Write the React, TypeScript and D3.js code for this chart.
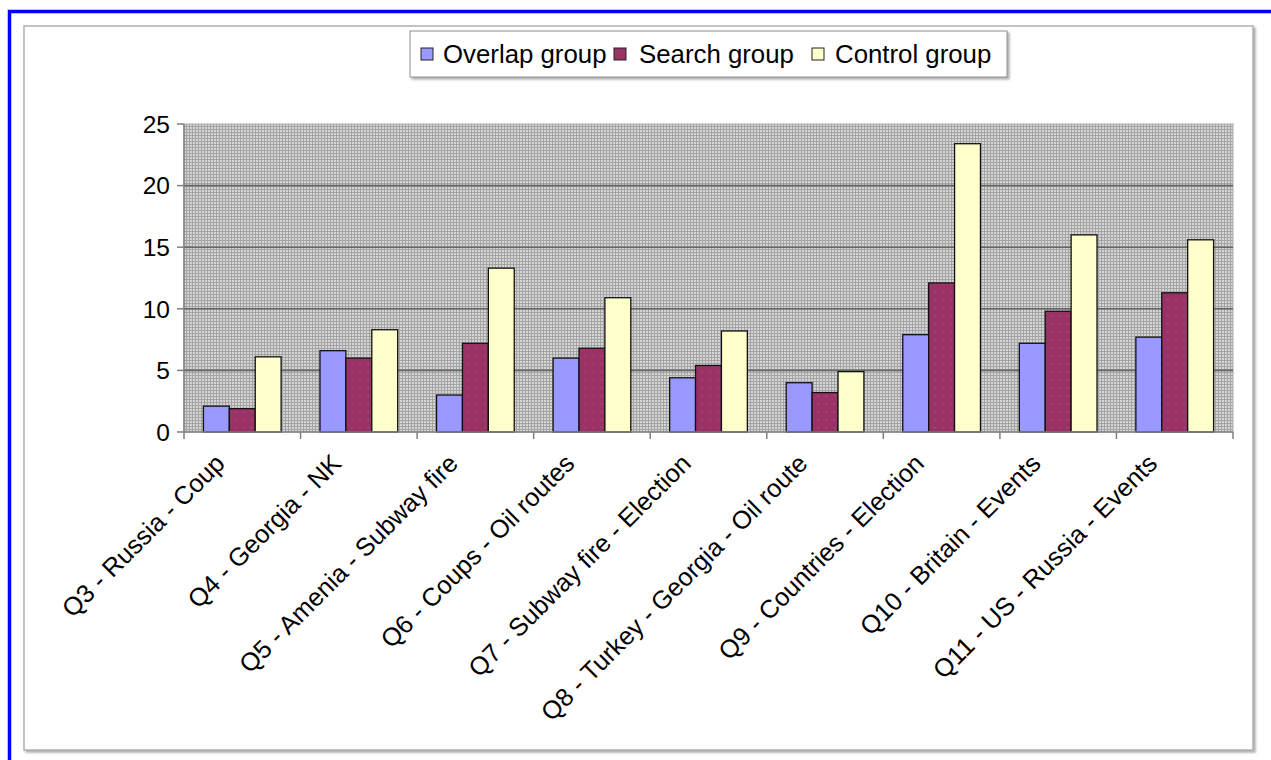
import React from "react";
import * as d3 from "d3";

const categories = [
  "Q3 - Russia - Coup",
  "Q4 - Georgia - NK",
  "Q5 - Amenia - Subway fire",
  "Q6 - Coups - Oil routes",
  "Q7 - Subway fire - Election",
  "Q8 - Turkey - Georgia - Oil route",
  "Q9 - Countries - Election",
  "Q10 - Britain - Events",
  "Q11 - US - Russia - Events",
];

const seriesNames = ["Overlap group", "Search group", "Control group"];
const overlapGroup = [2.1, 6.6, 3.0, 6.0, 4.4, 4.0, 7.9, 7.2, 7.7];
const searchGroup = [1.9, 6.0, 7.2, 6.8, 5.4, 3.2, 12.1, 9.8, 11.3];
const controlGroup = [6.1, 8.3, 13.3, 10.9, 8.2, 4.9, 23.4, 16.0, 15.6];
const yTicks = [0, 5, 10, 15, 20, 25];

const seriesValues = [overlapGroup, searchGroup, controlGroup];
const seriesFill = ["#9999ff", "url(#redDots)", "#ffffcc"];
const legendFill = ["#9999ff", "#993366", "#ffffcc"];

const W = 1271;
const H = 760;
const plot = { left: 184, right: 1233, top: 124, bottom: 432 };
const FONT = "'Liberation Sans', Arial, sans-serif";

export default function App() {
  const x0 = d3
    .scaleBand<string>()
    .domain(categories)
    .range([plot.left, plot.right])
    .padding(0);
  const cw = x0.bandwidth();
  const bw = cw / 4.5;
  const x1 = d3
    .scaleBand<string>()
    .domain(seriesNames)
    .range([bw * 0.75, cw - bw * 0.75])
    .padding(0);
  const y = d3.scaleLinear().domain([0, 25]).range([plot.bottom, plot.top]);

  const legendItems = [
    { x: 421, tx: 443 },
    { x: 614, tx: 639 },
    { x: 812, tx: 835 },
  ];

  return (
    <svg
      width={W}
      height={H}
      style={{ position: "absolute", left: 0, top: 0, display: "block" }}
      fontFamily={FONT}
    >
      <defs>
        <pattern id="plotDots" width="3" height="3" patternUnits="userSpaceOnUse">
          <rect width="3" height="3" fill="#a4a4a4" />
          <rect x="1" y="1" width="2" height="2" fill="#d4d4d4" />
        </pattern>
        <pattern id="redDots" width="8" height="8" patternUnits="userSpaceOnUse">
          <rect width="8" height="8" fill="#993366" />
          <rect x="3" y="3" width="1.2" height="1.2" fill="#d0448f" />
        </pattern>
        <filter id="shadow" x="-5%" y="-5%" width="110%" height="120%">
          <feDropShadow dx="2" dy="2" stdDeviation="0.8" floodColor="#999" floodOpacity="0.8" />
        </filter>
      </defs>

      <rect x={0} y={0} width={W} height={H} fill="#ffffff" />
      {/* outer blue frame */}
      <rect x={9.5} y={11.5} width={W + 20} height={H + 20} fill="none" stroke="#0000ff" strokeWidth={3.5} />

      {/* chart area frame */}
      <rect x={24} y={26} width={1229} height={724} fill="#ffffff" stroke="#b0b0b0" strokeWidth={1.5} filter="url(#shadow)" />

      {/* plot area */}
      <rect
        x={plot.left}
        y={plot.top}
        width={plot.right - plot.left}
        height={plot.bottom - plot.top}
        fill="url(#plotDots)"
        stroke="#a8a8a8"
        strokeWidth={1}
      />

      {/* gridlines */}
      {yTicks
        .filter((t) => t > 0 && t < 25)
        .map((t) => (
          <line key={t} x1={plot.left} x2={plot.right} y1={y(t)} y2={y(t)} stroke="#666" strokeWidth={1.6} />
        ))}

      {/* bars */}
      {categories.map((c, i) => (
        <g key={c} transform={`translate(${x0(c)},0)`}>
          {seriesNames.map((s, j) => {
            const v = seriesValues[j][i];
            return (
              <rect
                key={s}
                x={x1(s)!}
                y={y(v)}
                width={x1.bandwidth()}
                height={y(0) - y(v)}
                fill={seriesFill[j]}
                stroke="#111"
                strokeWidth={1.3}
              />
            );
          })}
        </g>
      ))}

      {/* axes */}
      <line x1={plot.left} x2={plot.left} y1={plot.top} y2={plot.bottom} stroke="#808080" strokeWidth={1.5} />
      <line x1={plot.left} x2={plot.right} y1={plot.bottom} y2={plot.bottom} stroke="#808080" strokeWidth={1.5} />

      {yTicks.map((t) => (
        <g key={t}>
          <line x1={plot.left - 7} x2={plot.left} y1={y(t)} y2={y(t)} stroke="#808080" strokeWidth={1.5} />
          <text x={plot.left - 14} y={y(t)} dy="0.36em" textAnchor="end" fontSize={24.5} fill="#000">
            {t}
          </text>
        </g>
      ))}

      {d3.range(categories.length + 1).map((k) => {
        const xx = plot.left + k * cw;
        return <line key={k} x1={xx} x2={xx} y1={plot.bottom} y2={plot.bottom + 7} stroke="#808080" strokeWidth={1.5} />;
      })}

      {categories.map((c) => {
        const cx = x0(c)! + cw / 2;
        return (
          <text
            key={c}
            transform={`translate(${cx - 16},${465}) rotate(-45)`}
            textAnchor="end"
            fontSize={25.4}
            fill="#000"
          >
            {c}
          </text>
        );
      })}

      {/* legend */}
      <rect x={410} y={31} width={597} height={46} fill="#ffffff" stroke="#a0a0a0" strokeWidth={1.2} filter="url(#shadow)" />
      {seriesNames.map((s, j) => (
        <g key={s}>
          <rect x={legendItems[j].x} y={48} width={12} height={12} fill={legendFill[j]} stroke="#222" strokeWidth={1} />
          <text x={legendItems[j].tx} y={63} fontSize={25.8} fill="#000">
            {s}
          </text>
        </g>
      ))}
    </svg>
  );
}
